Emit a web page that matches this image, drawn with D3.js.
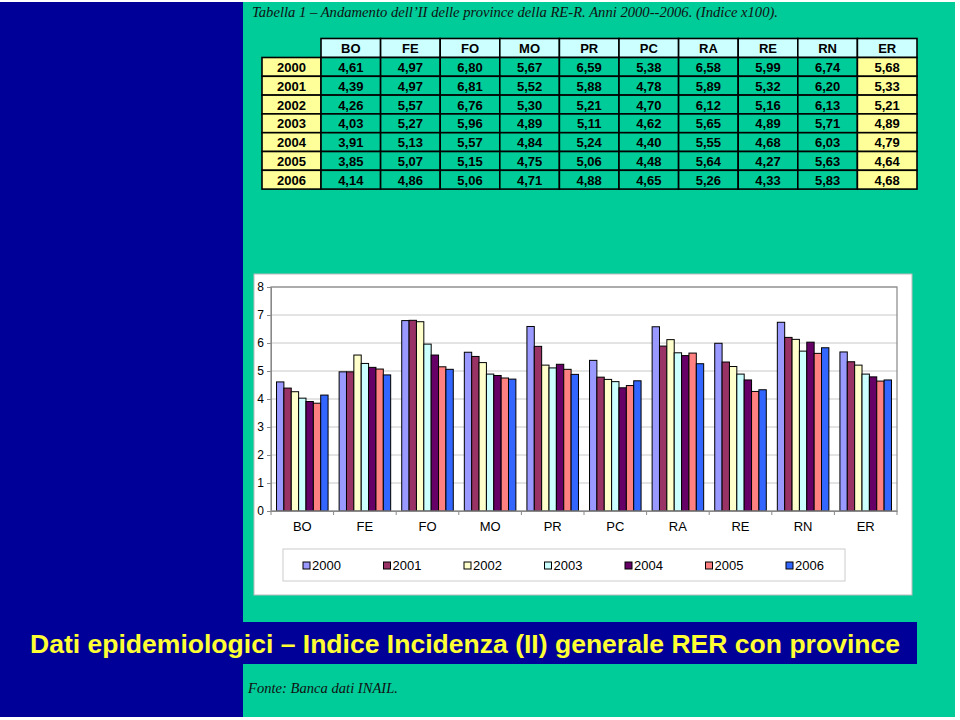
<!DOCTYPE html>
<html><head><meta charset="utf-8">
<script src="https://cdn.jsdelivr.net/npm/d3@7"></script>
<style>html,body{margin:0;padding:0;background:#fff;}svg{display:block;}</style>
</head><body>
<script>
const categories = ["BO","FE","FO","MO","PR","PC","RA","RE","RN","ER"];
const years = ["2000","2001","2002","2003","2004","2005","2006"];
const v2000 = [4.61,4.97,6.80,5.67,6.59,5.38,6.58,5.99,6.74,5.68];
const v2001 = [4.39,4.97,6.81,5.52,5.88,4.78,5.89,5.32,6.20,5.33];
const v2002 = [4.26,5.57,6.76,5.30,5.21,4.70,6.12,5.16,6.13,5.21];
const v2003 = [4.03,5.27,5.96,4.89,5.11,4.62,5.65,4.89,5.71,4.89];
const v2004 = [3.91,5.13,5.57,4.84,5.24,4.40,5.55,4.68,6.03,4.79];
const v2005 = [3.85,5.07,5.15,4.75,5.06,4.48,5.64,4.27,5.63,4.64];
const v2006 = [4.14,4.86,5.06,4.71,4.88,4.65,5.26,4.33,5.83,4.68];
const yTicks = [0,1,2,3,4,5,6,7,8];
const colors = ["#9999FF","#993366","#FFFFCC","#CCFFFF","#660066","#FF8080","#3366FF"];
const titleTop = "Tabella 1 \u2013 Andamento dell\u2019II delle province della RE-R. Anni 2000--2006. (Indice x100).";
const titleBottom = "Dati epidemiologici \u2013 Indice Incidenza (II) generale RER con province";
const source = "Fonte: Banca dati INAIL.";

const series = [v2000,v2001,v2002,v2003,v2004,v2005,v2006];
const fmt = v => v.toFixed(2).replace(".", ",");

const W = 960, H = 720;
const svg = d3.select("body").append("svg").attr("width", W).attr("height", H);

// backgrounds
svg.append("rect").attr("x",0).attr("y",0).attr("width",W).attr("height",H).attr("fill","#fff");
svg.append("rect").attr("x",0).attr("y",2).attr("width",955).attr("height",715).attr("fill","#00CC99");
svg.append("rect").attr("x",0).attr("y",2).attr("width",243).attr("height",715).attr("fill","#000099");

// top title
svg.append("text").attr("x",252).attr("y",17)
  .attr("font-family","'Liberation Serif','Times New Roman',serif").attr("font-style","italic")
  .attr("font-size",15).attr("fill","#111").attr("textLength",526).attr("lengthAdjust","spacingAndGlyphs")
  .text(titleTop);

// ---- table ----
const tX0 = 262, tYearW = 59, tX1 = 321, colW = 59.6, tY0 = 38.5, headH = 19, rowH = 18.8;
const tfont = "'Liberation Sans',Arial,sans-serif";
const tbl = svg.append("g");
// header cells
tbl.selectAll("rect.h").data(categories).join("rect")
  .attr("x",(d,i)=>tX1+i*colW).attr("y",tY0).attr("width",colW).attr("height",headH)
  .attr("fill","#CCFFFF").attr("stroke","#000").attr("stroke-width",1.6);
tbl.selectAll("text.h").data(categories).join("text")
  .attr("x",(d,i)=>tX1+i*colW+colW/2).attr("y",tY0+headH/2+5)
  .attr("text-anchor","middle").attr("font-family",tfont).attr("font-weight","bold").attr("font-size",13)
  .text(d=>d);
const rowsTop = tY0+headH;
years.forEach((yr,r)=>{
  const y = rowsTop + r*rowH;
  tbl.append("rect").attr("x",tX0).attr("y",y).attr("width",tX1-tX0).attr("height",rowH)
    .attr("fill","#FFFF99").attr("stroke","#000").attr("stroke-width",1.6);
  tbl.append("text").attr("x",(tX0+tX1)/2).attr("y",y+rowH/2+5).attr("text-anchor","middle")
    .attr("font-family",tfont).attr("font-weight","bold").attr("font-size",13).text(yr);
  series[r].forEach((v,c)=>{
    tbl.append("rect").attr("x",tX1+c*colW).attr("y",y).attr("width",colW).attr("height",rowH)
      .attr("fill", categories[c]==="ER" ? "#FFFF99" : "#00CC99").attr("stroke","#000").attr("stroke-width",1.6);
    tbl.append("text").attr("x",tX1+c*colW+colW/2).attr("y",y+rowH/2+5).attr("text-anchor","middle")
      .attr("font-family",tfont).attr("font-weight","bold").attr("font-size",13).text(fmt(v));
  });
});

// ---- chart ----
svg.append("rect").attr("x",254).attr("y",274).attr("width",658).attr("height",321)
  .attr("fill","#fff").attr("stroke","#bbb").attr("stroke-width",1);
const pL = 271, pR = 897, pT = 287, pB = 511;
const x = d3.scaleBand().domain(categories).range([pL,pR]).paddingInner(0).paddingOuter(0);
const xi = d3.scaleBand().domain(years).range([0,x.bandwidth()]).paddingInner(0).paddingOuter(0.75);
const y = d3.scaleLinear().domain([0,8]).range([pB,pT]);
const cfont = "'Liberation Sans',Arial,sans-serif";

const grid = svg.append("g");
grid.selectAll("line").data(yTicks).join("line")
  .attr("x1",pL).attr("x2",pR).attr("y1",d=>y(d)).attr("y2",d=>y(d))
  .attr("stroke","#C8C8C8").attr("stroke-width",1);

const bars = svg.append("g");
years.forEach((yr,s)=>{
  bars.append("g").selectAll("rect").data(series[s]).join("rect")
    .attr("x",(d,i)=>x(categories[i])+xi(yr)).attr("y",d=>y(d))
    .attr("width",xi.bandwidth()).attr("height",d=>y(0)-y(d))
    .attr("fill",colors[s]).attr("stroke","#000").attr("stroke-width",1);
});

// plot border
svg.append("rect").attr("x",pL).attr("y",pT).attr("width",pR-pL).attr("height",pB-pT)
  .attr("fill","none").attr("stroke","#888").attr("stroke-width",1.2);

// y axis
const yAxis = svg.append("g").attr("transform",`translate(${pL},0)`)
  .call(d3.axisLeft(y).tickValues(yTicks).tickSize(4).tickPadding(3).tickFormat(d3.format("d")));
yAxis.select(".domain").attr("stroke","#888");
yAxis.selectAll(".tick line").attr("stroke","#888");
yAxis.selectAll("text").attr("font-family",cfont).attr("font-size",12).attr("fill","#000");

// x axis
const xAxis = svg.append("g").attr("transform",`translate(0,${pB})`)
  .call(d3.axisBottom(x).tickSize(0).tickPadding(11));
xAxis.select(".domain").attr("stroke","#888");
xAxis.selectAll("text").attr("font-family",cfont).attr("font-size",13).attr("fill","#000");
// category separator ticks
svg.append("g").selectAll("line").data(categories.concat(["_end"])).join("line")
  .attr("x1",(d,i)=>pL+i*x.step()).attr("x2",(d,i)=>pL+i*x.step())
  .attr("y1",pB).attr("y2",pB+4).attr("stroke","#888");

// legend
const lg = svg.append("g");
lg.append("rect").attr("x",283).attr("y",549).attr("width",562).attr("height",32)
  .attr("fill","#fff").attr("stroke","#ccc").attr("stroke-width",1);
const legX = d3.scalePoint().domain(years).range([303,786]);
years.forEach((yr,s)=>{
  lg.append("rect").attr("x",legX(yr)).attr("y",562).attr("width",7).attr("height",7)
    .attr("fill",colors[s]).attr("stroke","#000").attr("stroke-width",1);
  lg.append("text").attr("x",legX(yr)+9).attr("y",570).attr("font-family",cfont).attr("font-size",13)
    .text(yr);
});

// bottom title
svg.append("rect").attr("x",0).attr("y",622).attr("width",917).attr("height",42).attr("fill","#000099");
svg.append("text").attr("x",30).attr("y",653)
  .attr("font-family","'Liberation Sans Narrow','Arial Narrow','Liberation Sans',Arial,sans-serif")
  .attr("font-weight","bold").attr("font-size",26).attr("fill","#FFFF33")
  .attr("textLength",870).attr("lengthAdjust","spacingAndGlyphs").text(titleBottom);

// source
svg.append("text").attr("x",248).attr("y",693)
  .attr("font-family","'Liberation Serif','Times New Roman',serif").attr("font-style","italic")
  .attr("font-size",14).attr("fill","#111").attr("textLength",150).attr("lengthAdjust","spacingAndGlyphs")
  .text(source);
</script>
</body></html>
